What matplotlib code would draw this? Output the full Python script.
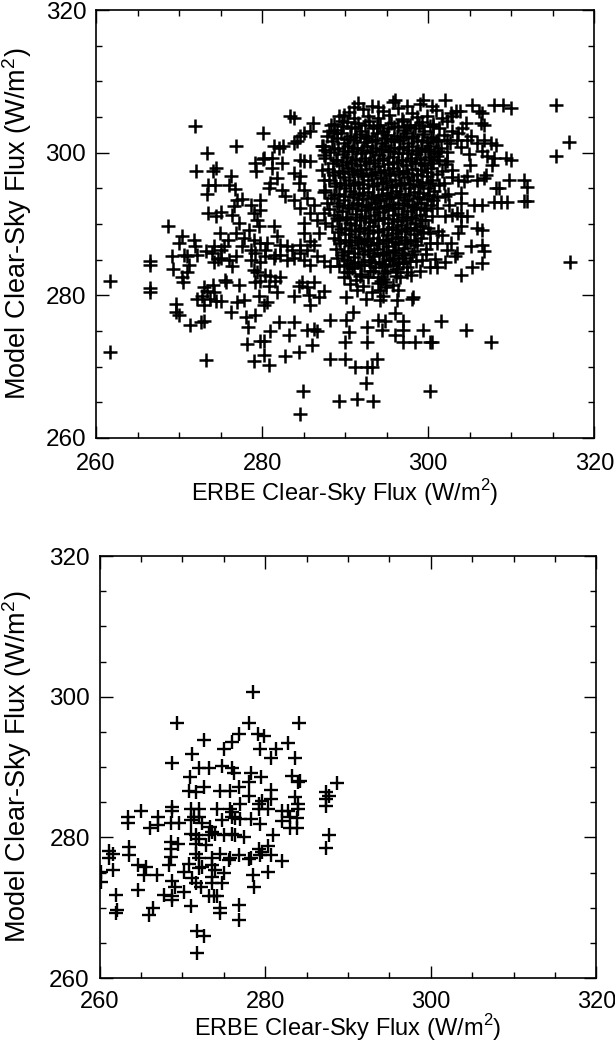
import matplotlib
matplotlib.use('Agg')
import matplotlib.pyplot as plt
from matplotlib.ticker import MultipleLocator

plt.rcParams['font.family'] = ['Liberation Sans', 'DejaVu Sans']
plt.rcParams['mathtext.fontset'] = 'custom'
plt.rcParams['mathtext.rm'] = 'Liberation Sans'

# ---- top panel: values, grouped by area ----
# left, sparse side
top_left_x = [271.9, 280.1, 276.8, 273.4, 280.1, 279.2, 279.3, 272.0, 274.4, 274.1,
              276.2, 276.0, 276.7, 273.5, 274.3, 273.4, 277.0, 276.6, 277.6, 273.5,
              274.4, 275.0, 276.4, 277.2, 268.7, 274.9, 276.8, 277.8, 278.4, 270.4,
              270.0, 271.8, 271.9, 273.2, 272.2, 274.2, 274.0, 275.0, 275.4, 275.9,
              269.2, 270.6, 271.0, 269.3, 271.2, 270.9, 270.4, 270.5, 266.5, 266.5,
              266.5, 266.5, 261.7, 261.7, 275.5, 275.7, 277.2, 273.0, 273.4, 272.2,
              272.8, 273.0, 274.1, 274.2, 273.7, 274.5, 275.0, 269.6, 269.6, 270.0,
              271.3, 272.7, 273.0, 276.3, 277.0, 277.8, 278.1, 278.3, 279.2, 279.6,
              280.2, 278.2, 279.8, 280.2, 280.2, 279.0, 273.2]
top_left_y = [303.7, 302.8, 301.0, 299.9, 299.1, 298.6, 297.4, 297.4, 297.9, 297.4,
              296.7, 295.5, 294.9, 295.4, 295.5, 294.2, 293.4, 292.5, 293.5, 291.6,
              291.1, 291.7, 291.3, 290.1, 289.7, 288.8, 288.8, 288.1, 289.2, 288.3,
              287.4, 287.8, 286.9, 286.2, 285.7, 286.9, 286.0, 286.4, 286.9, 287.7,
              285.5, 285.7, 285.5, 283.7, 284.3, 283.2, 282.5, 281.8, 284.3, 284.8,
              280.5, 281.0, 282.0, 272.1, 282.2, 281.9, 281.4, 281.1, 280.6, 279.5,
              279.9, 278.6, 281.5, 280.4, 279.5, 279.2, 279.2, 278.8, 277.6, 277.2,
              275.8, 276.2, 276.4, 277.6, 279.1, 279.3, 277.0, 275.5, 277.2, 279.9,
              278.7, 273.2, 273.6, 273.6, 271.7, 270.8, 270.9]

top_edge_x = [279.2, 279.8, 278.6, 279.0, 279.4, 279.8, 275.0, 276.0, 276.8, 276.4,
              274.2, 274.7, 278.6, 279.8, 279.8, 279.0, 279.4, 279.6, 279.0, 279.8,
              278.6, 279.2, 277.6]
top_edge_y = [281.8, 282.0, 285.0, 283.6, 283.2, 284.6, 285.3, 285.0, 285.5, 284.1,
              284.6, 285.1, 292.6, 293.4, 292.0, 291.6, 290.6, 289.7, 287.8, 287.4,
              286.4, 285.9, 286.9]

# upper middle (280-288)
top_mid_x = [291.1, 294.0, 289.8, 289.6, 283.4, 283.8, 286.1, 285.8, 285.0, 284.6,
             288.3, 288.0, 288.6, 283.8, 284.2, 281.4, 282.0, 282.5, 287.2, 287.6,
             287.4, 280.2, 281.2, 281.2, 282.4, 284.6, 285.0, 285.8, 281.8, 281.0,
             280.8, 282.4, 282.8, 283.8, 284.6, 284.4, 285.0, 285.4, 283.8, 284.6,
             286.2, 285.8, 286.6, 287.2, 287.4, 287.6, 287.8, 287.4, 287.6, 281.4,
             281.8, 282.2, 283.0, 283.6, 280.6, 280.4, 281.6, 285.0, 285.0, 285.8,
             284.6, 285.4, 286.8, 286.3]
top_mid_y = [306.4, 306.4, 305.3, 304.4, 305.1, 304.9, 304.2, 303.0, 302.8, 302.3,
             303.9, 303.0, 302.8, 301.4, 301.6, 300.9, 300.7, 300.9, 300.9, 300.4,
             299.7, 299.3, 299.3, 297.8, 298.6, 299.0, 298.8, 298.8, 296.5, 295.8,
             295.1, 294.8, 293.9, 297.2, 296.7, 295.8, 294.8, 293.7, 293.4, 292.3,
             292.7, 291.6, 290.6, 297.6, 296.2, 294.8, 293.0, 291.6, 290.2, 289.7,
             288.3, 287.1, 286.9, 286.4, 287.4, 286.4, 285.7, 290.2, 288.8, 287.6,
             287.1, 286.4, 288.8, 287.1]

# lower middle
top_low_x = [280.4, 281.0, 280.8, 281.6, 282.2, 281.8, 280.6, 283.8, 284.4, 284.8,
             285.4, 286.2, 285.6, 286.8, 287.4, 285.8, 288.2, 290.1, 290.9, 292.6,
             294.0, 294.8, 294.4, 290.4, 290.0, 292.6, 282.0, 283.8, 283.2, 281.0,
             285.4, 286.2, 286.6, 286.0, 282.8, 284.4, 280.8, 288.2, 290.0, 291.2,
             292.6, 293.2, 293.8, 292.5, 284.9, 289.3, 291.4, 293.3, 284.5,
             280.4, 281.4, 282.2, 283.0, 283.8, 284.6, 285.0, 285.8, 286.6, 287.4,
             288.2, 289.0, 289.8, 290.2, 291.0, 291.8, 293.0, 294.0, 294.8, 294.6,
             294.2]
top_low_y = [282.9, 282.7, 281.3, 282.0, 282.5, 280.4, 279.0, 279.9, 281.3, 281.8,
             281.1, 281.8, 280.1, 279.7, 280.6, 278.7, 276.6, 276.6, 277.6, 275.5,
             276.6, 276.4, 275.2, 274.8, 273.4, 273.4, 276.2, 276.2, 274.5, 275.0,
             275.2, 275.3, 275.0, 273.1, 271.5, 272.0, 270.2, 271.0, 271.1, 270.0,
             270.0, 270.0, 271.1, 267.7, 266.6, 265.2, 265.4, 265.2, 263.4,
             285.5, 285.3, 285.7, 285.0, 285.3, 286.0, 285.0, 284.3, 285.5, 284.8,
             284.1, 285.3, 284.3, 283.2, 283.9, 282.7, 283.4, 282.5, 281.8, 279.9,
             280.8]

# lower right
top_lowright_x = [299.0, 300.2, 301.0, 303.9, 305.3, 306.5, 306.7, 294.2, 296.2, 298.0,
                  298.2, 296.0, 297.0, 296.0, 297.0, 299.4, 301.5, 304.5, 297.0, 298.4,
                  300.2, 300.5, 300.2, 307.5,
                  294.5, 295.4, 296.3, 297.2, 295.0, 296.1, 294.3, 297.5, 298.5, 299.7,
                  300.8, 302.0, 303.2, 294.9]
top_lowright_y = [283.4, 283.9, 283.9, 282.8, 283.9, 284.5, 286.2, 279.4, 279.3, 279.5,
                  279.7, 277.5, 276.4, 274.5, 275.1, 275.2, 276.4, 275.1, 273.4, 273.4,
                  273.5, 273.5, 266.6, 273.5,
                  285.9, 285.0, 284.6, 285.3, 283.4, 282.7, 282.0, 283.2, 284.8, 285.8,
                  285.1, 284.7, 285.5, 281.2]

# right side
top_right_x = [307.9, 309.0, 309.9, 315.4, 306.5, 306.7, 317.0, 315.4, 309.3, 310.0,
               309.7, 311.5, 311.9, 308.1, 308.5, 306.5, 307.9, 308.7, 309.5, 311.5,
               311.9, 306.5, 306.5, 317.1, 306.7, 307.5, 308.1, 306.5, 307.1, 307.9,
               307.7, 306.9, 306.7,
               296.0, 299.4, 300.4, 302.0, 302.7, 303.3, 302.9, 304.1, 305.3, 306.1,
               306.3, 300.6, 301.2, 302.2, 303.4, 304.7, 305.9, 301.0, 302.2, 302.8,
               303.6, 304.7, 305.9, 300.6, 302.0, 302.5, 303.9, 305.5, 302.0, 302.8,
               303.4, 304.0, 304.7, 300.2, 301.2, 301.6, 302.7, 303.6, 303.9, 305.1,
               305.9, 302.2, 301.0, 303.4]
top_right_y = [306.7, 306.7, 306.3, 306.7, 305.6, 303.9, 301.5, 299.5, 299.3, 299.0,
               296.2, 296.2, 295.2, 295.1, 295.1, 292.7, 293.1, 293.1, 293.1, 293.2,
               293.2, 289.2, 287.1, 284.6, 301.8, 301.4, 301.1, 300.2, 299.5, 299.3,
               298.3, 296.9, 296.4,
               307.4, 307.4, 306.5, 307.4, 305.6, 305.8, 305.1, 303.4, 306.7, 305.8,
               304.2, 303.7, 301.8, 301.8, 301.8, 301.8, 301.4, 299.5, 298.8, 297.6,
               296.2, 296.7, 296.2, 293.4, 293.9, 292.7, 293.0, 292.7, 291.1, 291.3,
               291.6, 291.1, 291.1, 288.8, 289.0, 288.5, 287.4, 288.8, 289.7, 286.9,
               289.5, 286.4, 287.4, 286.0]

# dense core, upper half
core_up_x = [291.5, 293.2, 295.8, 297.4, 299.0,
             290.4, 292.1, 294.6, 296.3, 298.1, 300.9, 303.8,
             289.2, 291.0, 292.7, 293.9, 295.3, 296.8, 298.6, 299.9, 301.7,
             288.6, 290.2, 291.6, 292.9, 294.2, 295.5, 296.9, 297.8, 299.2, 300.6, 302.3, 304.6,
             289.0, 290.7, 291.9, 293.4, 294.6, 295.9, 297.1, 298.4, 299.5, 301.3, 302.9,
             287.8, 289.5, 290.6, 291.8, 292.7, 293.8, 295.0, 296.2, 297.3, 298.2, 299.4, 300.3, 301.9, 303.6, 305.1,
             288.4, 289.9, 291.1, 292.3, 293.2, 294.4, 295.5, 296.6, 297.6, 298.7, 299.8, 300.9, 302.6,
             287.3, 289.1, 290.3, 291.4, 292.6, 293.7, 294.8, 295.9, 296.9, 298.0, 299.1, 300.2, 301.5, 303.9,
             288.2, 289.7, 290.8, 291.9, 293.0, 294.1, 295.2, 296.3, 297.4, 298.5, 299.6, 300.7, 302.3, 304.9,
             287.6, 289.0, 290.2, 291.3, 292.4, 293.5, 294.6, 295.7, 296.8, 297.9, 299.0, 300.1, 301.3,
             288.5, 289.6, 290.7, 291.8, 292.9, 294.0, 295.1, 296.2, 297.3, 298.4, 299.5, 300.6, 302.0, 305.0,
             287.9, 289.2, 290.3, 291.4, 292.5, 293.6, 294.7, 295.8, 296.9, 298.0, 299.1, 300.3, 301.6]
core_up_y = [306.9, 306.6, 307.1, 306.5, 306.8,
             305.7, 306.1, 305.8, 306.2, 305.6, 306.0, 305.9,
             305.1, 304.8, 305.2, 304.9, 305.3, 304.7, 305.0, 305.2, 304.8,
             304.0, 304.3, 304.1, 304.4, 303.9, 304.2, 304.5, 303.9, 304.3, 304.0, 304.4, 304.1,
             303.2, 303.5, 303.1, 303.4, 303.0, 303.6, 303.2, 303.4, 303.1, 303.5, 303.0,
             302.4, 302.7, 302.3, 302.6, 302.4, 302.8, 302.5, 302.3, 302.7, 302.4, 302.6, 302.2, 302.5, 302.7, 302.4,
             301.7, 301.4, 301.8, 301.5, 301.7, 301.3, 301.6, 301.8, 301.4, 301.7, 301.5, 301.6, 301.3,
             300.9, 300.7, 301.0, 300.6, 300.9, 300.7, 301.0, 300.6, 300.8, 301.0, 300.7, 300.9, 300.6, 300.8,
             300.1, 299.8, 300.2, 299.9, 300.1, 299.7, 300.2, 299.9, 300.0, 299.8, 300.2, 299.9, 300.1, 299.8,
             299.3, 299.0, 299.4, 299.1, 299.3, 298.9, 299.2, 299.4, 299.0, 299.3, 299.1, 299.4, 299.0,
             298.5, 298.2, 298.6, 298.3, 298.5, 298.1, 298.4, 298.6, 298.2, 298.5, 298.3, 298.6, 298.4, 298.2,
             297.7, 297.4, 297.8, 297.5, 297.7, 297.3, 297.6, 297.8, 297.4, 297.7, 297.5, 297.8, 297.4]

# dense core, lower half
core_low_x = [288.7, 289.9, 291.0, 292.1, 293.2, 294.3, 295.4, 296.5, 297.6, 298.7, 299.8, 301.0, 302.9,
              288.1, 289.4, 290.5, 291.6, 292.7, 293.8, 294.9, 296.0, 297.1, 298.2, 299.3, 300.5, 301.9, 304.3,
              288.9, 290.0, 291.1, 292.2, 293.3, 294.4, 295.5, 296.6, 297.7, 298.8, 300.0, 301.3,
              287.5, 289.3, 290.6, 291.7, 292.8, 293.9, 295.0, 296.1, 297.2, 298.3, 299.4, 300.7, 302.4, 304.0,
              288.3, 289.8, 290.9, 292.0, 293.1, 294.2, 295.3, 296.4, 297.5, 298.6, 299.8, 301.1,
              289.0, 290.3, 291.4, 292.5, 293.6, 294.7, 295.8, 296.9, 298.0, 299.1, 300.3,
              288.0, 289.6, 290.8, 291.9, 293.0, 294.1, 295.2, 296.3, 297.4, 298.5, 299.7, 301.0,
              288.7, 290.1, 291.3, 292.4, 293.5, 294.6, 295.7, 296.8, 297.9, 299.0, 300.4,
              289.3, 290.6, 291.8, 292.9, 294.0, 295.1, 296.2, 297.3, 298.4, 299.6,
              288.4, 290.0, 291.2, 292.3, 293.4, 294.5, 295.6, 296.7, 297.8, 299.0, 300.0,
              289.1, 290.5, 291.7, 292.8, 293.9, 295.0, 296.1, 297.2, 298.3, 299.4,
              288.6, 290.0, 291.2, 292.3, 293.4, 294.5, 295.6, 296.7, 297.8, 299.1,
              289.4, 290.7, 291.9, 293.0, 294.1, 295.2, 296.3, 297.4, 298.6, 300.2,
              288.9, 290.3, 291.5, 292.7, 293.8, 294.9, 296.0, 297.1, 298.3, 299.7,
              289.6, 291.0, 292.2, 293.4, 294.6, 295.7, 296.8, 298.1,
              290.2, 291.6, 292.9, 294.1, 295.3, 296.5, 297.8, 299.2,
              289.3, 290.8, 292.3, 293.6, 294.8, 296.1, 297.5,
              290.4, 291.9, 293.3, 294.7, 296.2, 297.9,
              289.8, 291.3, 292.8, 294.5, 296.6,
              290.6, 292.2, 293.9, 295.8,
              291.4, 293.2, 296.4,
              290.1, 292.5]
core_low_y = [296.9, 296.6, 297.0, 296.7, 296.9, 296.5, 296.8, 297.0, 296.6, 296.9, 296.7, 297.0, 296.6,
              296.1, 295.8, 296.2, 295.9, 296.1, 295.7, 296.0, 296.2, 295.8, 296.1, 295.9, 296.2, 295.8, 296.0,
              295.3, 295.0, 295.4, 295.1, 295.3, 294.9, 295.2, 295.4, 295.0, 295.3, 295.1, 295.4,
              294.5, 294.2, 294.6, 294.3, 294.5, 294.1, 294.4, 294.6, 294.2, 294.5, 294.3, 294.6, 294.2, 294.4,
              293.7, 293.4, 293.8, 293.5, 293.7, 293.3, 293.6, 293.8, 293.4, 293.7, 293.5, 293.8,
              292.9, 292.6, 293.0, 292.7, 292.9, 292.5, 292.8, 293.0, 292.6, 292.9, 292.7,
              292.1, 291.8, 292.2, 291.9, 292.1, 291.7, 292.0, 292.2, 291.8, 292.1, 291.9, 292.2,
              291.3, 291.0, 291.4, 291.1, 291.3, 290.9, 291.2, 291.4, 291.0, 291.3, 291.1,
              290.5, 290.2, 290.6, 290.3, 290.5, 290.1, 290.4, 290.6, 290.2, 290.5,
              289.7, 289.4, 289.8, 289.5, 289.7, 289.3, 289.6, 289.8, 289.4, 289.7, 289.5,
              288.9, 288.6, 289.0, 288.7, 288.9, 288.5, 288.8, 289.0, 288.6, 288.9,
              288.1, 287.8, 288.2, 287.9, 288.1, 287.7, 288.0, 288.2, 287.8, 288.1,
              287.3, 287.0, 287.4, 287.1, 287.3, 286.9, 287.2, 287.4, 287.0, 287.3,
              286.5, 286.2, 286.6, 286.3, 286.5, 286.1, 286.4, 286.6, 286.2, 286.5,
              285.7, 285.4, 285.8, 285.5, 285.7, 285.3, 285.6, 285.8,
              284.9, 284.6, 285.0, 284.7, 284.9, 284.5, 284.8, 285.0,
              284.1, 283.8, 284.2, 283.9, 284.1, 283.7, 284.0,
              283.3, 283.0, 283.4, 283.1, 283.3, 282.9,
              282.5, 282.2, 282.6, 282.3, 282.5,
              281.6, 281.3, 281.7, 281.4,
              280.7, 280.4, 280.8,
              279.8, 279.5]

# extra points filling the gaps of the black core
core_fill_x = [289.7, 291.2, 292.4, 293.8, 295.1, 296.3, 297.5, 298.9, 300.2,
               289.0, 290.2, 291.3, 292.5, 293.6, 294.8, 295.9, 297.0, 298.1, 299.3, 300.6,
               288.6, 289.8, 290.9, 292.0, 293.2, 294.3, 295.4, 296.5, 297.6, 298.8, 300.0, 301.2,
               288.9, 290.1, 291.2, 292.4, 293.5, 294.6, 295.7, 296.8, 297.9, 299.1, 300.3,
               288.5, 289.7, 290.8, 291.9, 293.1, 294.2, 295.3, 296.4, 297.5, 298.7, 299.9,
               288.8, 290.0, 291.1, 292.2, 293.4, 294.5, 295.6, 296.7, 297.8, 299.0, 300.2,
               288.7, 289.9, 291.0, 292.1, 293.3, 294.4, 295.5, 296.6, 297.7, 298.9, 300.1,
               289.3, 290.4, 291.5, 292.7, 293.8, 294.9, 296.0, 297.1, 298.3, 299.5,
               289.0, 290.2, 291.3, 292.4, 293.6, 294.7, 295.8, 296.9, 298.0, 299.2,
               289.5, 290.7, 291.8, 292.9, 294.0, 295.2, 296.3, 297.4, 298.6,
               289.2, 290.4, 291.5, 292.6, 293.8, 294.9, 296.0, 297.2, 298.4,
               289.9, 291.1, 292.3, 293.5, 294.6, 295.8, 297.0,
               290.6, 291.9, 293.1, 294.4, 295.7, 297.0]
core_fill_y = [303.8, 303.6, 303.9, 303.7, 303.5, 303.8, 303.6, 303.9, 303.7,
               302.1, 301.9, 302.2, 302.0, 301.8, 302.1, 301.9, 302.2, 302.0, 301.8, 302.1,
               300.5, 300.3, 300.6, 300.4, 300.2, 300.5, 300.3, 300.6, 300.4, 300.2, 300.5, 300.3,
               298.9, 298.7, 299.0, 298.8, 298.6, 298.9, 298.7, 299.0, 298.8, 298.6, 298.9,
               297.3, 297.1, 297.4, 297.2, 297.0, 297.3, 297.1, 297.4, 297.2, 297.0, 297.3,
               295.7, 295.5, 295.8, 295.6, 295.4, 295.7, 295.5, 295.8, 295.6, 295.4, 295.7,
               294.1, 293.9, 294.2, 294.0, 293.8, 294.1, 293.9, 294.2, 294.0, 293.8, 294.1,
               292.5, 292.3, 292.6, 292.4, 292.2, 292.5, 292.3, 292.6, 292.4, 292.2,
               290.9, 290.7, 291.0, 290.8, 290.6, 290.9, 290.7, 291.0, 290.8, 290.6,
               289.3, 289.1, 289.4, 289.2, 289.0, 289.3, 289.1, 289.4, 289.2,
               287.7, 287.5, 287.8, 287.6, 287.4, 287.7, 287.5, 287.8, 287.6,
               286.1, 285.9, 286.2, 286.0, 285.8, 286.1, 285.9,
               284.5, 284.3, 284.6, 284.4, 284.2, 284.5]

# ---- bottom panel ----
bot_left_x = [278.5, 269.4, 278.0, 272.6, 276.9, 276.0, 275.0, 271.2, 268.7, 272.0,
              273.2, 274.8, 276.0, 276.2, 278.3, 270.9, 278.0, 270.8, 271.6, 272.6,
              274.6, 275.8, 276.8, 278.1, 265.0, 268.8, 268.8, 271.0, 272.0, 274.2,
              275.8, 276.0, 277.0, 263.5, 263.5, 267.1, 267.1, 266.1, 268.6, 269.6,
              271.0, 271.4, 272.0, 272.4, 273.4, 273.6, 274.8, 276.0, 276.4, 277.0,
              278.3, 271.0, 271.6, 272.0, 273.2, 274.0, 275.0, 276.0, 276.4, 277.4,
              272.8, 271.6, 268.6, 268.6, 269.5, 263.6, 263.6, 261.2, 261.2, 261.6,
              268.6, 268.4, 271.6, 272.0, 273.6, 274.6, 275.6, 275.8, 276.8, 278.0,
              278.3, 270.8, 272.0, 272.4, 273.6, 274.0, 275.0, 260.2, 260.2, 261.6,
              264.6, 265.6, 265.4, 267.0, 270.2, 271.2, 271.6, 272.2, 273.6, 274.8,
              273.6, 278.5, 278.7, 264.6, 262.0, 267.8, 268.7, 268.8, 270.2, 273.2,
              273.8, 274.2, 262.0, 262.1, 266.0, 266.4, 271.0, 274.6, 274.6, 276.8,
              276.8, 271.8, 272.6, 271.8, 268.8, 269.1]
bot_left_y = [300.7, 296.3, 296.2, 293.8, 294.7, 293.5, 292.5, 291.8, 290.5, 289.8,
              289.9, 290.2, 289.9, 289.2, 289.2, 288.6, 287.8, 286.6, 286.5, 287.1,
              286.6, 286.6, 287.1, 285.9, 283.8, 284.3, 283.8, 284.0, 284.0, 284.1,
              284.0, 283.6, 284.7, 282.9, 282.1, 282.9, 281.7, 281.3, 282.0, 282.0,
              282.4, 282.9, 282.9, 282.0, 281.5, 280.7, 282.4, 282.9, 282.7, 282.6,
              282.6, 280.5, 280.3, 279.8, 280.3, 280.5, 280.3, 280.5, 280.3, 280.0,
              278.9, 279.1, 279.3, 278.4, 279.0, 278.6, 277.5, 278.0, 277.1, 277.7,
              277.2, 276.1, 277.7, 277.1, 277.1, 277.7, 276.8, 277.1, 277.5, 276.9,
              277.0, 276.2, 275.7, 275.8, 276.1, 275.4, 274.9, 275.1, 273.7, 275.4,
              276.1, 275.8, 274.6, 274.6, 275.1, 274.2, 273.5, 273.0, 273.5, 273.5,
              274.4, 274.6, 273.0, 272.5, 271.8, 271.8, 271.1, 271.6, 272.3, 271.7,
              271.7, 271.7, 269.3, 269.6, 269.0, 270.0, 270.2, 270.0, 269.3, 270.4,
              268.3, 266.7, 266.0, 263.6, 273.8, 273.0]

bot_right_x = [284.1, 279.1, 279.8, 282.8, 279.4, 281.3, 280.7, 283.6, 279.5, 283.2,
               284.0, 284.2, 288.7, 280.7, 280.7, 279.6, 279.2, 280.3, 279.2, 283.6,
               284.0, 284.0, 282.0, 282.8, 283.0, 283.8, 282.0, 283.0, 283.8, 287.3,
               287.7, 287.3, 287.3, 279.4, 287.7, 287.4, 281.0, 279.2, 279.6, 280.3,
               279.4, 280.7, 282.0, 280.4]
bot_right_y = [296.2, 294.7, 294.4, 293.4, 292.5, 292.5, 291.3, 291.3, 288.6, 288.7,
               287.8, 288.0, 287.7, 286.8, 285.5, 285.2, 284.7, 284.0, 284.0, 285.7,
               284.7, 284.0, 283.7, 283.8, 282.9, 282.7, 282.3, 281.3, 281.3, 286.4,
               285.9, 285.5, 284.5, 281.9, 280.4, 278.5, 280.3, 278.4, 277.9, 278.8,
               277.5, 277.5, 276.6, 275.1]

top_x = (top_left_x + top_edge_x + top_mid_x + top_low_x + top_lowright_x
         + top_right_x + core_up_x + core_low_x + core_fill_x)
top_y = (top_left_y + top_edge_y + top_mid_y + top_low_y + top_lowright_y
         + top_right_y + core_up_y + core_low_y + core_fill_y)
bot_x = bot_left_x + bot_right_x
bot_y = bot_left_y + bot_right_y

xlab = r'ERBE Clear-Sky Flux (W/m$^2$)'
ylab = r'Model Clear-Sky Flux (W/m$^2$)'


def style(ax, xpad, lpad, ylx):
    ax.set_xlim(260, 320)
    ax.set_ylim(260, 320)
    for a in (ax.xaxis, ax.yaxis):
        a.set_major_locator(MultipleLocator(20))
        a.set_minor_locator(MultipleLocator(5))
    ax.tick_params(which='both', direction='in', top=True, right=True,
                   width=1.0, colors='black')
    ax.tick_params(which='major', length=9)
    ax.tick_params(which='minor', length=4.5)
    ax.tick_params(axis='x', which='major', pad=xpad, labelsize=17)
    ax.tick_params(axis='y', which='major', pad=7, labelsize=17.5)
    for s in ax.spines.values():
        s.set_linewidth(1.2)
    ax.set_xlabel(xlab, fontsize=17, labelpad=lpad)
    ax.set_ylabel(ylab, fontsize=19.5)
    ax.yaxis.set_label_coords(ylx, 0.5)


fig = plt.figure(figsize=(6.15, 10.42), dpi=100)
ax1 = fig.add_axes([0.1561, 0.5797, 0.8104, 0.4107])
ax2 = fig.add_axes([0.1618, 0.0614, 0.8081, 0.4050])

ax1.plot(top_x, top_y, linestyle='none', marker='+', ms=9.5, mew=1.8, color='black')
ax2.plot(bot_x, bot_y, linestyle='none', marker='+', ms=9.5, mew=1.7, color='black')

style(ax1, 11, 1, -0.125)
style(ax2, 9, 0, -0.132)

fig.savefig('out.png', dpi=100)
